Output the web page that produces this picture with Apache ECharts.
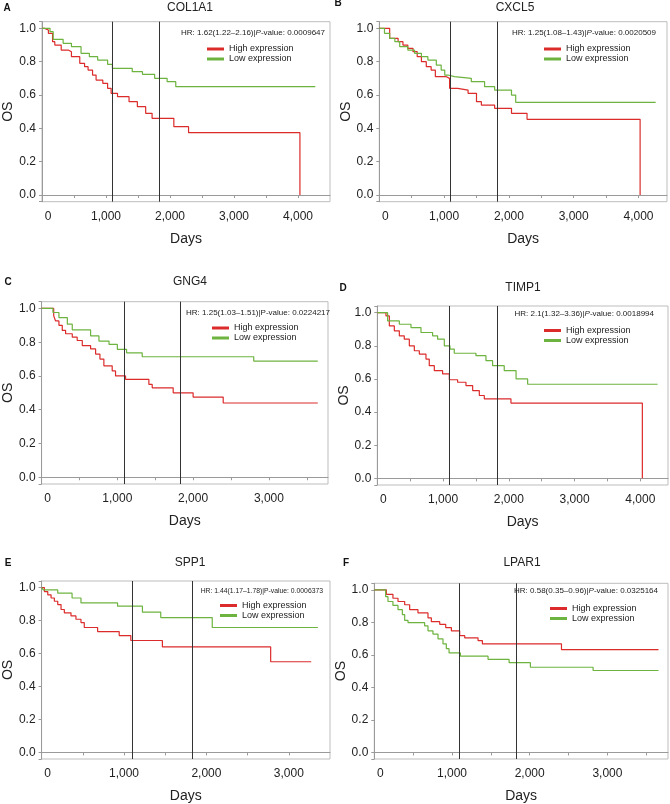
<!DOCTYPE html>
<html><head><meta charset="utf-8">
<script src="https://cdn.jsdelivr.net/npm/echarts@6/dist/echarts.min.js"></script>
<style>html,body{margin:0;padding:0;background:#fff}#c{width:670px;height:804px}</style>
</head><body><div id="c"></div>
<script>
// ---------- data ----------
const genes = ['COL1A1','CXCL5','GNG4','TIMP1','SPP1','LPAR1'];
const letters = ['A','B','C','D','E','F'];
const hrText = ['1.62(1.22–2.16)','1.25(1.08–1.43)','1.25(1.03–1.51)','2.1(1.32–3.36)','1.44(1.17–1.78)','0.58(0.35–0.96)'];
const pValues = ['0.0009647','0.0020509','0.0224217','0.0018994','0.0006373','0.0325164'];
const xMax = [4500,4440,3780,4420,3500,3780];
const milestones = [1095,1825];
const seriesNames = ['High expression','Low expression'];
const xTicks = [0,1000,2000,3000,4000];
const yTicks = [0.0,0.2,0.4,0.6,0.8,1.0];

const COL1A1_high = [[0,1],[40,0.99],[100,0.97],[165,0.92],[200,0.90],[300,0.87],[410,0.86],[460,0.83],[590,0.79],[665,0.77],[720,0.75],[790,0.72],[845,0.69],[950,0.67],[1025,0.64],[1080,0.61],[1180,0.59],[1360,0.56],[1490,0.53],[1620,0.49],[1720,0.46],[2060,0.41],[2290,0.374],[4030,0]];
const COL1A1_low = [[0,1],[125,0.98],[175,0.934],[330,0.91],[460,0.89],[610,0.85],[740,0.83],[870,0.81],[1025,0.784],[1100,0.76],[1410,0.74],[1570,0.724],[1760,0.70],[1955,0.68],[2090,0.65],[4270,0.65]];
const CXCL5_high = [[0,1],[160,0.94],[290,0.92],[365,0.90],[440,0.88],[520,0.86],[585,0.83],[650,0.80],[725,0.77],[800,0.75],[865,0.71],[1035,0.70],[1085,0.64],[1210,0.63],[1370,0.61],[1500,0.56],[1575,0.54],[1780,0.52],[2040,0.49],[2280,0.454],[4025,0]];
const CXCL5_low = [[0,1],[80,0.97],[160,0.94],[240,0.92],[315,0.89],[440,0.87],[545,0.85],[650,0.83],[750,0.81],[880,0.78],[955,0.75],[1010,0.72],[1060,0.71],[1160,0.70],[1420,0.68],[1625,0.65],[1780,0.63],[2040,0.60],[2105,0.556],[4265,0.556]];
const GNG4_high = [[0,1],[160,0.956],[185,0.926],[229,0.90],[273,0.87],[317,0.85],[405,0.83],[470,0.81],[537,0.78],[647,0.76],[713,0.73],[770,0.70],[822,0.66],[932,0.63],[976,0.60],[1108,0.58],[1416,0.55],[1460,0.53],[1737,0.50],[2000,0.475],[2397,0.44],[3645,0.44]];
const GNG4_low = [[0,1],[150,0.976],[229,0.946],[340,0.907],[405,0.873],[647,0.837],[757,0.807],[890,0.787],[1000,0.757],[1122,0.737],[1328,0.714],[2800,0.688],[3645,0.688]];
const TIMP1_high = [[0,1],[132,0.98],[183,0.92],[259,0.89],[335,0.86],[410,0.84],[487,0.80],[563,0.77],[639,0.75],[740,0.72],[790,0.68],[867,0.65],[993,0.63],[1095,0.595],[1221,0.58],[1348,0.56],[1450,0.53],[1551,0.50],[1627,0.48],[2032,0.454],[4030,0]];
const TIMP1_low = [[0,1],[157,0.95],[335,0.93],[512,0.91],[664,0.88],[841,0.86],[917,0.84],[1019,0.80],[1105,0.78],[1170,0.755],[1500,0.74],[1652,0.71],[1753,0.68],[1930,0.65],[2110,0.60],[2286,0.568],[4262,0.568]];
const SPP1_high = [[0,1],[34,0.976],[75,0.956],[115,0.937],[155,0.917],[196,0.897],[236,0.867],[276,0.847],[357,0.828],[417,0.808],[478,0.788],[518,0.758],[680,0.733],[942,0.709],[1083,0.679],[1466,0.64],[2780,0.55],[3272,0.55]];
const SPP1_low = [[0,1],[20,0.986],[196,0.966],[370,0.937],[478,0.907],[922,0.887],[1224,0.851],[1446,0.818],[2071,0.758],[3353,0.758]];
const LPAR1_high = [[0,1],[155,0.972],[240,0.948],[305,0.928],[391,0.908],[455,0.878],[562,0.858],[691,0.828],[734,0.804],[842,0.788],[919,0.768],[992,0.748],[1099,0.718],[1164,0.704],[1335,0.688],[1391,0.668],[2409,0.632],[3658,0.632]];
const LPAR1_low = [[0,1],[146,0.958],[176,0.928],[240,0.904],[305,0.878],[361,0.848],[391,0.812],[434,0.798],[648,0.778],[691,0.748],[755,0.728],[820,0.698],[884,0.668],[927,0.638],[962,0.612],[1108,0.592],[1464,0.572],[1735,0.552],[2009,0.524],[2816,0.504],[3658,0.504]];

const highData = [COL1A1_high,CXCL5_high,GNG4_high,TIMP1_high,SPP1_high,LPAR1_high];
const lowData = [COL1A1_low,CXCL5_low,GNG4_low,TIMP1_low,SPP1_low,LPAR1_low];

// ---------- layout ----------
const FONT = 'Liberation Sans, Arial, sans-serif';
const grids = [
  {l:42, t:21.7, r:330, b:201.7},
  {l:379.3, t:21.7, r:667, b:201.7},
  {l:41, t:301.7, r:328, b:484},
  {l:377.3, t:306, r:668, b:485},
  {l:40, t:581, r:330, b:763.3},
  {l:374.3, t:583.3, r:668, b:765}
];
const titlePos = [[190,8],[515,8],[190,282],[523,288],[190,563],[522,563]];
const letterPos = [[7,8],[338,3],[8,282],[343,288],[8,563],[346,563]];
const hrPos = [[325,32.3],[656,32.3],[330,312.3],[654,314],[323,591],[658,591]];
const hrSize = [8,8,8,8,6.8,8];
const hrItalic = [true,true,false,true,false,true];
const legPos = [[202,39],[539,39],[207,318],[539,320.5],[215,595.5],[545,598.5]];
const RED = '#dc2b2b', GREEN = '#6db33f', AXIS = '#9a9a9a';

const option = {
  animation:false,
  textStyle:{fontFamily:FONT},
  grid:[], xAxis:[], yAxis:[], series:[], legend:[], graphic:[]
};

genes.forEach((g,i)=>{
  const r = grids[i];
  option.grid.push({left:r.l, top:r.t, width:r.r-r.l, height:r.b-r.t, show:true, borderColor:'#bdbdbd', borderWidth:1, containLabel:false});
  option.xAxis.push({
    type:'value', gridIndex:i, min:0, max:xMax[i], interval:500,
    name:'Days', nameLocation:'middle', nameGap:30,
    nameTextStyle:{fontSize:14, color:'#222', fontFamily:FONT},
    axisLine:{show:true, lineStyle:{color:AXIS}},
    axisTick:{show:true, length:3, lineStyle:{color:AXIS}},
    splitLine:{show:false},
    axisLabel:{fontSize:12, color:'#222', margin:9, showMaxLabel:false,
      rich:{z:{fontSize:12, color:'#222', padding:[0,0,0,12]}},
      formatter:v=> v===0 ? '{z|0}' : (xTicks.includes(v) ? v.toLocaleString('en-US') : '')}
  });
  option.yAxis.push({
    type:'value', gridIndex:i, min:-0.04, max:1.04, splitNumber:5,
    name:'OS', nameLocation:'middle', nameGap:23,
    nameTextStyle:{fontSize:14, color:'#222', fontFamily:FONT},
    axisLine:{show:true, lineStyle:{color:AXIS}},
    axisTick:{show:true, length:3, lineStyle:{color:AXIS}},
    splitLine:{show:false},
    axisLabel:{fontSize:12, color:'#222', margin:6,
      formatter:v=> yTicks.some(t=>Math.abs(t-v)<1e-6) ? v.toFixed(1) : ''}
  });
  [highData[i], lowData[i]].forEach((d,k)=>{
    const s = {
      type:'line', name:seriesNames[k], xAxisIndex:i, yAxisIndex:i, data:d,
      step:'end', showSymbol:false, symbol:'none',
      lineStyle:{width:1.2, color:k===0?RED:GREEN}, itemStyle:{color:k===0?RED:GREEN},
      z:3
    };
    if (k===0) {
      s.markLine = {silent:true, symbol:'none', label:{show:false},
        lineStyle:{color:'#333', width:1, type:'solid'},
        data: milestones.map(m=>({xAxis:m}))};
    }
    option.series.push(s);
  });
  option.legend.push({
    left:legPos[i][0], top:legPos[i][1], orient:'vertical', selectedMode:false,
    icon:'rect', itemWidth:17, itemHeight:3, itemGap:0,
    textStyle:{fontSize:9, lineHeight:10, color:'#222', fontFamily:FONT},
    data:seriesNames
  });
  option.graphic.push({type:'text', x:titlePos[i][0], y:titlePos[i][1],
    style:{text:g, fill:'#222', fontSize:12, fontFamily:FONT, align:'center', verticalAlign:'middle'}});
  option.graphic.push({type:'text', x:letterPos[i][0], y:letterPos[i][1],
    style:{text:letters[i], fill:'#111', fontSize:10, fontWeight:'bold', fontFamily:FONT, align:'center', verticalAlign:'middle'}});
  const fs = hrSize[i];
  option.graphic.push({type:'text', x:hrPos[i][0], y:hrPos[i][1],
    style:{text:'{n|HR: '+hrText[i]+'|}{p|P}{n|-value: '+pValues[i]+'}', align:'right', verticalAlign:'middle',
      rich:{n:{fontSize:fs, fill:'#222', fontFamily:FONT}, p:{fontSize:fs, fill:'#222', fontFamily:FONT, fontStyle:hrItalic[i]?'italic':'normal'}}}});
});

const chart = echarts.init(document.getElementById('c'), null, {renderer:'canvas'});
chart.setOption(option);
</script></body></html>
